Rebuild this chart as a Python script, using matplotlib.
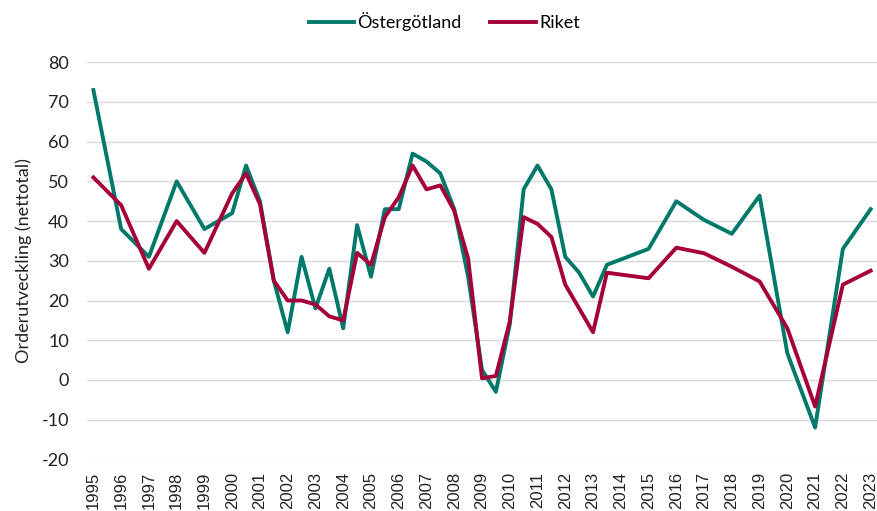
import matplotlib
matplotlib.use("Agg")
import matplotlib.pyplot as plt

plt.rcParams["axes.unicode_minus"] = False

x_pos = [1995, 1996, 1997, 1998, 1999, 2000, 2000.5, 2001, 2001.5, 2002, 2002.5,
         2003, 2003.5, 2004, 2004.5, 2005, 2005.5, 2006, 2006.5, 2007, 2007.5,
         2008, 2008.5, 2009, 2009.5, 2010, 2010.5, 2011, 2011.5, 2012, 2012.5,
         2013, 2013.5, 2015, 2016, 2017, 2018, 2019, 2020, 2021, 2022, 2023]

ostergotland = [73, 38, 31, 50, 38, 42, 54, 45, 25, 12, 31,
                18, 28, 13, 39, 26, 43, 43, 57, 55, 52,
                43, 26, 2.5, -3, 14, 48, 54, 48, 31, 27,
                21, 29, 33, 45, 40.3, 36.8, 46.4, 6.7, -12, 33, 43]

riket = [51, 44, 28, 40, 32, 47, 52, 44.3, 25, 20, 20,
         19, 16, 15, 32, 29, 41, 46, 54, 48, 49,
         42.6, 30.6, 0.4, 1, 14.7, 41, 39.3, 36, 24, 18,
         12, 27, 25.6, 33.3, 31.9, 28.5, 24.8, 13, -6.7, 24, 27.5]

tick_years = list(range(1995, 2024))
y_ticks = list(range(-20, 81, 10))

green = "#00796A"
red = "#A5003A"

fig = plt.figure(figsize=(8.78, 5.11), dpi=100)
ax = fig.add_axes([87/878, 1 - 459.3/511, (877-87)/878, (459.3-62.3)/511])

l1, = ax.plot(x_pos, ostergotland, color=green, lw=2.8, solid_joinstyle="round",
              label="Östergötland", zorder=3)
l2, = ax.plot(x_pos, riket, color=red, lw=2.8, solid_joinstyle="round",
              label="Riket", zorder=4)

ax.set_xlim(1994.77, 2023.23)
ax.set_ylim(-20, 80)
ax.set_yticks(y_ticks)
ax.set_xticks(tick_years)
ax.set_xticklabels([str(y) for y in tick_years], rotation=90,
                   fontfamily="Liberation Sans", fontsize=12, color="#222222")
ax.set_yticklabels([str(v) for v in y_ticks], fontfamily="Lato", fontsize=13,
                   color="#222222")
ax.tick_params(axis="both", length=0)
ax.tick_params(axis="y", pad=13)
ax.tick_params(axis="x", pad=9)
ax.grid(axis="y", color="#D9D9D9", lw=1.0, zorder=0)
for s in ax.spines.values():
    s.set_visible(False)

ax.set_ylabel("Orderutveckling (nettotal)", fontfamily="Lato", fontsize=13,
              color="#222222", labelpad=7)

fig.legend(handles=[l1, l2], loc="center", bbox_to_anchor=(0.506, 0.957),
           ncol=2, frameon=False, prop={"family": "Lato", "size": 13},
           handlelength=2.5, handletextpad=0.2, columnspacing=1.6)

fig.savefig("out.png", dpi=100)
